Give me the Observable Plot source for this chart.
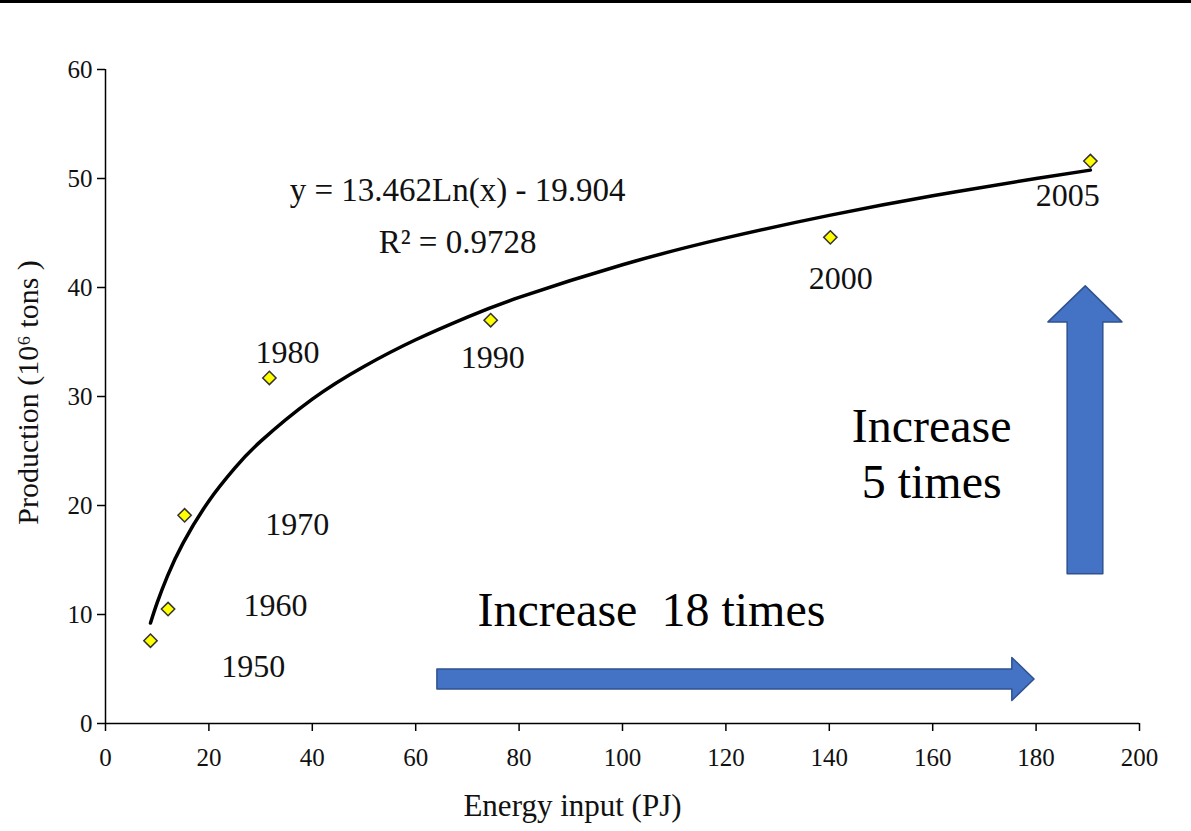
<!DOCTYPE html>
<html>
<head>
<meta charset="utf-8">
<script src="https://cdn.jsdelivr.net/npm/d3@7"></script>
<script src="https://cdn.jsdelivr.net/npm/@observablehq/plot@0.6"></script>
<style>
  html, body { margin: 0; padding: 0; background: #fff; }
  #wrap { position: relative; width: 1191px; height: 831px; overflow: hidden; }
  #topline { position: absolute; left: 0; top: 0; width: 1191px; height: 3px; background: #000; }
</style>
</head>
<body>
<div id="wrap"><div id="topline"></div></div>
<script>
// ---- data ----
const years      = [1950, 1960, 1970, 1980, 1990, 2000, 2005];
const energyPJ   = [8.7, 12.1, 15.3, 31.7, 74.5, 140.2, 190.5];
const production = [7.6, 10.5, 19.1, 31.7, 37.0, 44.6, 51.6];

// year label anchor positions (data units)
const yearLabelX = [28.6, 32.9, 37.1, 35.2, 74.9, 142.2, 186.1];
const yearLabelY = [5.2, 10.8, 18.2, 34.0, 33.6, 40.8, 48.4];

// logarithmic trend line
const trendX = [8.7, 10, 12, 15, 20, 25, 30, 40, 50, 60, 70, 80, 100, 120, 140, 160, 180, 190.5];
const trendY = [9.22, 11.09, 13.55, 16.55, 20.42, 23.43, 25.88, 29.76, 32.76, 35.21, 37.29, 39.09, 42.09, 44.55, 46.62, 48.42, 50.00, 50.77];

const xTicks = [0, 20, 40, 60, 80, 100, 120, 140, 160, 180, 200];
const yTicks = [0, 10, 20, 30, 40, 50, 60];

const equationText = "y = 13.462Ln(x) - 19.904";
const r2Text = "R² = 0.9728";
const xTitle = "Energy input (PJ)";
const yTitle = "Production (10⁶ tons )";
const hArrowText = "Increase  18 times";
const vArrowText = ["Increase", "5 times"];

// block arrows (outline in data units)
const hArrowX  = [64.2, 175.4, 175.4, 179.7];
const hArrowY1 = [3.12, 3.12, 2.07, 4.04];
const hArrowY2 = [4.96, 4.96, 6.01, 4.04];
const vArrowY  = [13.7, 36.8, 36.8, 40.1];
const vArrowX1 = [186.1, 186.1, 182.4, 189.6];
const vArrowX2 = [193.0, 193.0, 196.7, 189.6];

// ---- tables ----
const points = years.map((yr, i) => ({year: yr, x: energyPJ[i], y: production[i], lx: yearLabelX[i], ly: yearLabelY[i]}));
const trend = trendX.map((x, i) => ({x, y: trendY[i]}));
const hArrow = hArrowX.map((x, i) => ({x, y1: hArrowY1[i], y2: hArrowY2[i]}));
const vArrow = vArrowY.map((y, i) => ({y, x1: vArrowX1[i], x2: vArrowX2[i]}));

const serif = "'Liberation Serif', 'Times New Roman', serif";
const ink = "#111";

const chart = Plot.plot({
  width: 1191,
  height: 831,
  marginLeft: 105,
  marginRight: 52,
  marginTop: 69,
  marginBottom: 108,
  style: {fontFamily: serif, fontSize: "25px", color: ink, background: "transparent"},
  x: {domain: [0, 200]},
  y: {domain: [0, 60]},
  marks: [
    Plot.axisX({ticks: xTicks, tickSize: 8, tickPadding: 17, label: null, fontSize: 25, stroke: "#000", strokeWidth: 1.5}),
    Plot.axisY({ticks: yTicks, tickSize: 8, tickPadding: 5, label: null, fontSize: 25, stroke: "#000", strokeWidth: 1.5}),
    Plot.ruleY([0], {stroke: "#000", strokeWidth: 1.5}),
    Plot.ruleX([0], {stroke: "#000", strokeWidth: 1.5}),
    // block arrows
    Plot.areaY(hArrow, {x: "x", y1: "y1", y2: "y2", fill: "#4472C4", stroke: "#2F528F", strokeWidth: 1.5}),
    Plot.areaX(vArrow, {y: "y", x1: "x1", x2: "x2", fill: "#4472C4", stroke: "#2F528F", strokeWidth: 1.5}),
    // trend line
    Plot.line(trend, {x: "x", y: "y", stroke: "#000", strokeWidth: 3.5, curve: "natural"}),
    // points
    Plot.dot(points, {x: "x", y: "y", symbol: "diamond2", r: 6, fill: "#FFFF00", stroke: "#333", strokeWidth: 1.5}),
    // year labels
    Plot.text(points, {x: "lx", y: "ly", text: d => String(d.year), fontSize: 32, fill: ink, fontFamily: serif}),
    // equation
    Plot.text([equationText], {x: 68.1, y: 48.9, text: d => d, fontSize: 33, fill: ink, fontFamily: serif}),
    Plot.text([r2Text], {x: 68.1, y: 44.1, text: d => d, fontSize: 33, fill: ink, fontFamily: serif}),
    // annotations
    Plot.text([hArrowText], {x: 105.6, y: 10.4, text: d => d, fontSize: 48, fill: "#000", fontFamily: serif}),
    Plot.text([vArrowText.join("\n")], {x: 159.8, y: 24.9, text: d => d, fontSize: 48, lineHeight: 1.17, fill: "#000", fontFamily: serif}),
    // axis titles
    Plot.text([xTitle], {frameAnchor: "bottom", textAnchor: "middle", lineAnchor: "middle", dx: -50, dy: 83, text: d => d, fontSize: 31, fill: ink, fontFamily: serif}),
    Plot.text([yTitle], {frameAnchor: "left", textAnchor: "middle", lineAnchor: "middle", dx: -77, dy: -4, rotate: -90, text: d => d, fontSize: 30, fill: ink, fontFamily: serif})
  ]
});
document.getElementById("wrap").appendChild(chart);
</script>
</body>
</html>
